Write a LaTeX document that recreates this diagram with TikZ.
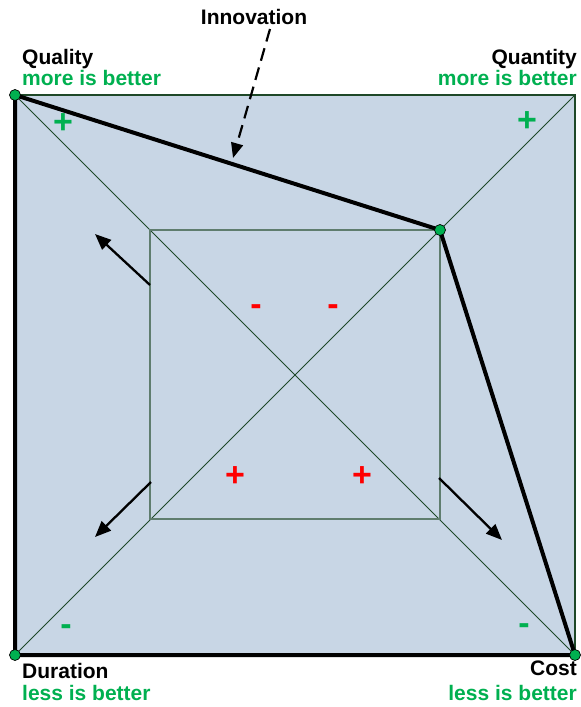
\documentclass[tikz,border=0pt]{standalone}
\usepackage{fontspec}
\setmainfont{Liberation Sans}
\usetikzlibrary{arrows.meta}
\definecolor{fillblue}{RGB}{200,214,229}
\definecolor{dkgreen}{RGB}{30,72,40}
\definecolor{innergreen}{RGB}{95,125,110}
\definecolor{offgreen}{RGB}{0,176,80}
\definecolor{sigred}{RGB}{255,0,0}
\tikzset{
  dot/.style={circle,fill=offgreen,draw=black,line width=0.7pt,inner sep=0pt,minimum size=11pt},
  lbl/.style={inner sep=0pt,font=\fontsize{21}{24}\selectfont\bfseries},
  sublbl/.style={lbl,text=offgreen},
  sign/.style={inner sep=0pt,font=\fontsize{34}{36}\selectfont\bfseries},
  diag/.style={draw=dkgreen,line width=0.8pt},
  movearrow/.style={draw=black,line width=2.3pt,-{Triangle[length=16pt,width=13pt]}},
  innovarrow/.style={draw=black,line width=2.2pt,dash pattern=on 13pt off 7pt,-{Triangle[length=15pt,width=12pt]}},
  front/.style={draw=black,line width=4pt,line join=round}
}
\begin{document}
\begin{tikzpicture}[x=1pt,y=-1pt]
\useasboundingbox (0,0) rectangle (581,707);
% corner coordinates
\coordinate (QL) at (15,95);
\coordinate (QN) at (575,95);
\coordinate (CO) at (575,655);
\coordinate (DU) at (15,655);
\coordinate (ITL) at (150,230);
\coordinate (ITR) at (440,230);
\coordinate (IBR) at (440,519);
\coordinate (IBL) at (150,519);
% background
\fill[fillblue] (QL) rectangle (CO);
% diagonals
\draw[diag] (QL) -- (CO);
\draw[diag] (QN) -- (DU);
% inner square
\draw[innergreen,line width=1.6pt] (ITL) rectangle (IBR);
% outer top/right edges
\draw[dkgreen,line width=2.2pt] (QL) -- (QN) -- (CO);
% front polygon
\draw[front] (QL) -- (ITR) -- (CO) -- (DU) -- cycle;
% dots
\node[dot] (dQL) at (QL) {};
\node[dot] (dITR) at (ITR) {};
\node[dot] (dCO) at (CO) {};
\node[dot] (dDU) at (DU) {};
% movement arrows
\coordinate (a1s) at (150,285); \coordinate (a1e) at (95,234);
\coordinate (a2s) at (151,482); \coordinate (a2e) at (95,537);
\coordinate (a3s) at (439,478); \coordinate (a3e) at (502,540);
\draw[movearrow] (a1s) -- (a1e);
\draw[movearrow] (a2s) -- (a2e);
\draw[movearrow] (a3s) -- (a3e);
% innovation
\node[lbl,anchor=base] (innov) at (254,24) {Innovation};
\coordinate (innovend) at (233,158);
\coordinate (innovstart) at (270,29);
\draw[innovarrow] (innovstart) -- (innovend);
% corner labels
\node[lbl,anchor=base west] (lq) at (22,64) {Quality};
\node[sublbl,anchor=base west] (lq2) at (22,85) {more is better};
\node[lbl,anchor=base east] (ln) at (577,64) {Quantity};
\node[sublbl,anchor=base east] (ln2) at (577,85) {more is better};
\node[lbl,anchor=base west] (ld) at (22,678) {Duration};
\node[sublbl,anchor=base west] (ld2) at (22,700) {less is better};
\node[lbl,anchor=base east] (lc) at (577,675) {Cost};
\node[sublbl,anchor=base east] (lc2) at (577,700) {less is better};
% signs
\node[sign,text=offgreen] (s1) at (63,124) {+};
\node[sign,text=offgreen] (s2) at (527,122) {+};
\node[sign,text=offgreen] (s3) at (66,630) {-};
\node[sign,text=offgreen] (s4) at (524,629) {-};
\node[sign,text=sigred] (s5) at (256,310) {-};
\node[sign,text=sigred] (s6) at (333,310) {-};
\node[sign,text=sigred] (s7) at (235,477) {+};
\node[sign,text=sigred] (s8) at (362,477) {+};
\end{tikzpicture}
\end{document}
